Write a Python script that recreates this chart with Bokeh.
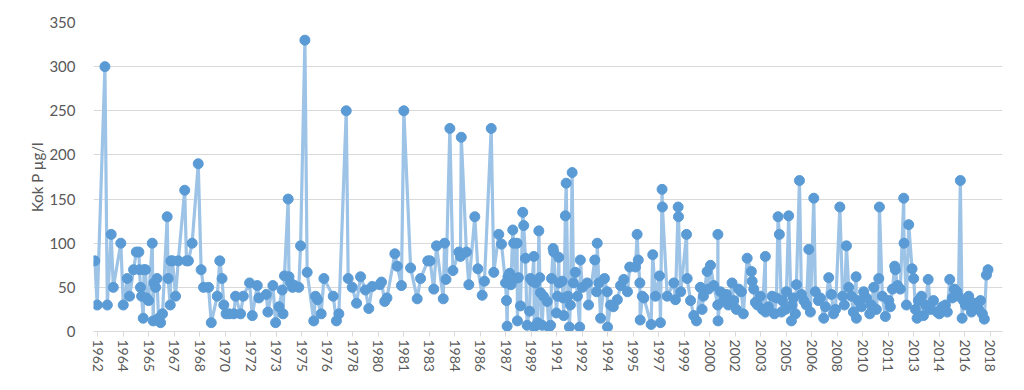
from bokeh.plotting import figure
from bokeh.models import Range1d, FixedTicker, ColumnDataSource
from bokeh.embed import file_html
from bokeh.resources import INLINE

# sampling dates (decimal years) and total phosphorus values (µg/l)
dates = [
    1962.43, 1962.58, 1963.06, 1963.21, 1963.45, 1963.58, 1964.05, 1964.20, 1964.45, 1964.59,
    1964.84, 1965.01, 1965.17, 1965.21, 1965.27, 1965.34, 1965.44, 1965.49, 1965.58, 1965.65,
    1965.77, 1966.00, 1966.06, 1966.11, 1966.21, 1966.30, 1966.39, 1966.52, 1966.64, 1966.93,
    1966.99, 1967.12, 1967.16, 1967.26, 1967.45, 1967.62, 1968.02, 1968.13, 1968.25, 1968.48,
    1968.86, 1969.04, 1969.19, 1969.50, 1969.67, 1970.04, 1970.20, 1970.34, 1970.45, 1970.59,
    1970.78, 1971.07, 1971.18, 1971.49, 1971.66, 1972.05, 1972.22, 1972.53, 1972.63, 1973.09,
    1973.19, 1973.50, 1973.67, 1973.88, 1974.08, 1974.13, 1974.22, 1974.45, 1974.50, 1974.60,
    1974.72, 1974.85, 1975.11, 1975.22, 1975.49, 1975.63, 1976.04, 1976.15, 1976.27, 1976.50,
    1976.67, 1977.25, 1977.45, 1977.60, 1978.06, 1978.18, 1978.43, 1978.70, 1978.95, 1979.25,
    1979.46, 1979.67, 1980.14, 1980.25, 1980.45, 1980.59, 1981.08, 1981.23, 1981.49, 1981.64,
    1982.06, 1982.47, 1982.68, 1983.13, 1983.27, 1983.50, 1983.67, 1984.09, 1984.17, 1984.26,
    1984.50, 1984.69, 1985.06, 1985.16, 1985.21, 1985.53, 1985.68, 1986.05, 1986.24, 1986.51,
    1986.65, 1987.07, 1987.23, 1987.54, 1987.71, 1987.96, 1988.02, 1988.06, 1988.11, 1988.22,
    1988.30, 1988.41, 1988.47, 1988.58, 1988.68, 1988.70, 1988.76, 1988.89, 1989.03, 1989.09,
    1989.20, 1989.30, 1989.45, 1989.51, 1989.62, 1989.72, 1989.74, 1989.83, 1989.96, 1990.03,
    1990.09, 1990.13, 1990.24, 1990.32, 1990.55, 1990.65, 1990.76, 1990.82, 1990.92, 1990.96,
    1991.12, 1991.19, 1991.27, 1991.29, 1991.48, 1991.54, 1991.58, 1991.68, 1991.73, 1991.84,
    1991.93, 1991.99, 1992.10, 1992.18, 1992.30, 1992.43, 1992.57, 1992.61, 1992.74, 1993.04,
    1993.12, 1993.51, 1993.62, 1993.66, 1993.76, 1993.87, 1994.11, 1994.28, 1994.30, 1994.49,
    1994.66, 1994.91, 1995.11, 1995.31, 1995.54, 1995.68, 1996.04, 1996.14, 1996.21, 1996.31,
    1996.33, 1996.46, 1996.56, 1997.01, 1997.11, 1997.28, 1997.53, 1997.59, 1997.69, 1997.71,
    1998.01, 1998.42, 1998.52, 1998.69, 1998.71, 1998.85, 1999.21, 1999.25, 1999.46, 1999.66,
    1999.83, 2000.07, 2000.18, 2000.26, 2000.49, 2000.57, 2000.70, 2000.90, 2001.15, 2001.16,
    2001.17, 2001.32, 2001.52, 2001.69, 2001.81, 2002.04, 2002.14, 2002.31, 2002.45, 2002.62,
    2002.74, 2002.98, 2003.24, 2003.29, 2003.39, 2003.49, 2003.62, 2003.80, 2003.93, 2004.11,
    2004.13, 2004.30, 2004.53, 2004.67, 2004.80, 2004.90, 2004.98, 2005.11, 2005.17, 2005.36,
    2005.42, 2005.56, 2005.73, 2005.77, 2005.85, 2005.98, 2006.04, 2006.23, 2006.35, 2006.50,
    2006.66, 2006.81, 2006.91, 2007.12, 2007.22, 2007.41, 2007.53, 2007.74, 2007.85, 2008.05,
    2008.22, 2008.35, 2008.47, 2008.74, 2008.91, 2009.02, 2009.15, 2009.29, 2009.46, 2009.58,
    2009.75, 2009.77, 2009.89, 2010.08, 2010.22, 2010.39, 2010.60, 2010.70, 2010.85, 2011.01,
    2011.16, 2011.20, 2011.38, 2011.57, 2011.78, 2011.88, 2012.01, 2012.15, 2012.19, 2012.32,
    2012.50, 2012.71, 2012.73, 2012.88, 2013.02, 2013.23, 2013.33, 2013.44, 2013.54, 2013.62,
    2013.81, 2013.94, 2014.06, 2014.23, 2014.37, 2014.56, 2014.79, 2014.93, 2015.11, 2015.30,
    2015.42, 2015.57, 2015.73, 2015.86, 2016.02, 2016.11, 2016.23, 2016.34, 2016.42, 2016.54,
    2016.75, 2016.92, 2017.04, 2017.17, 2017.36, 2017.48, 2017.60, 2017.72, 2017.85, 2017.95,
]

values = [
    80, 30, 300, 30, 110, 50, 100, 30, 60, 40,
    70, 90, 90, 70, 50, 40, 15, 70, 70, 38,
    35, 100, 12, 55, 50, 60, 15, 10, 20, 130,
    60, 30, 80, 80, 40, 80, 160, 80, 80, 100,
    190, 70, 50, 50, 10, 40, 80, 60, 30, 20,
    20, 20, 40, 20, 40, 55, 18, 52, 38, 42,
    22, 52, 10, 28, 47, 20, 63, 150, 62, 55,
    50, 52, 50, 97, 330, 67, 12, 40, 36, 20,
    60, 40, 12, 20, 250, 60, 50, 32, 62, 47,
    26, 51, 53, 56, 34, 38, 88, 74, 52, 250,
    72, 37, 60, 80, 80, 48, 97, 37, 100, 59,
    230, 69, 90, 85, 220, 90, 53, 130, 71, 41,
    57, 230, 67, 110, 99, 55, 35, 6, 62, 66,
    53, 115, 100, 60, 100, 12, 61, 29, 135, 120,
    83, 7, 23, 60, 57, 85, 5, 55, 10, 114,
    61, 44, 7, 40, 34, 5, 7, 60, 94, 90,
    21, 40, 84, 55, 57, 38, 18, 131, 168, 40,
    5, 30, 180, 55, 67, 40, 5, 81, 50, 55,
    30, 81, 45, 100, 55, 15, 60, 45, 5, 30,
    28, 36, 52, 59, 45, 73, 73, 110, 81, 55,
    13, 40, 38, 8, 87, 40, 63, 10, 161, 141,
    40, 55, 36, 141, 130, 45, 110, 60, 35, 18,
    12, 50, 25, 40, 68, 48, 75, 52, 30, 110,
    12, 45, 35, 42, 30, 55, 35, 25, 48, 45,
    20, 83, 68, 57, 48, 33, 30, 40, 25, 85,
    22, 28, 40, 20, 38, 130, 110, 22, 35, 25,
    45, 131, 12, 30, 38, 20, 53, 171, 42, 35,
    30, 93, 22, 151, 45, 35, 38, 15, 28, 61,
    42, 20, 25, 141, 40, 30, 97, 50, 40, 22,
    62, 15, 35, 28, 45, 38, 20, 30, 50, 25,
    60, 141, 40, 17, 35, 28, 48, 74, 70, 52,
    48, 151, 100, 30, 121, 71, 60, 25, 15, 35,
    40, 18, 30, 59, 25, 35, 22, 20, 28, 30,
    22, 59, 38, 48, 45, 40, 171, 15, 35, 30,
    40, 22, 30, 32, 25, 35, 20, 14, 64, 70,
]

tick_labels = [
    "1962", "1964", "1965", "1967", "1968", "1970", "1972", "1973", "1975", "1976",
    "1978", "1980", "1981", "1983", "1984", "1986", "1987", "1989", "1991", "1992",
    "1994", "1995", "1997", "1999", "2000", "2002", "2003", "2005", "2006", "2008",
    "2010", "2011", "2013", "2014", "2016", "2018",
]
y_ticks = [0, 50, 100, 150, 200, 250, 300, 350]
y_title = "Kok P µg/l"

# date axis: one major unit of about 19 months, starting mid-1962
first_tick = 1962.6
tick_step = 1.585
tick_pos = [first_tick + i * tick_step for i in range(len(tick_labels))]

src = ColumnDataSource(data=dict(x=dates, y=values))

FONT = "Lato"
TXT = "#595959"
GRID = "#D9D9D9"

p = figure(
    width=1008, height=374,
    x_range=Range1d(1962.35, 2018.85),
    y_range=Range1d(0, 350),
    output_backend="svg", toolbar_location=None,
    min_border_left=93, min_border_right=6, min_border_top=22, min_border_bottom=42,
    background_fill_color="white", border_fill_color="white",
)
p.outline_line_color = None

p.line("x", "y", source=src, line_color="#9DC3E6", line_width=3.2)
p.scatter("x", "y", source=src, size=10, fill_color="#5B9BD5", line_color="#5B9BD5")

# x axis
xa = p.xaxis[0]
xa.ticker = FixedTicker(ticks=tick_pos)
xa.major_label_overrides = {t: lab for t, lab in zip(tick_pos, tick_labels)}
xa.major_label_orientation = "vertical"
xa.major_label_text_font = FONT
xa.major_label_text_font_size = "14px"
xa.major_label_text_color = TXT
xa.axis_line_color = GRID
xa.major_tick_line_color = GRID
xa.major_tick_out = 5
xa.major_tick_in = 0
xa.minor_tick_line_color = None
xa.major_label_standoff = 3

# y axis
ya = p.yaxis[0]
ya.ticker = FixedTicker(ticks=y_ticks)
ya.major_label_text_font = FONT
ya.major_label_text_font_size = "15px"
ya.major_label_text_color = TXT
ya.axis_line_color = None
ya.major_tick_line_color = None
ya.minor_tick_line_color = None
ya.major_label_standoff = 12
ya.axis_label = y_title
ya.axis_label_text_font = FONT
ya.axis_label_text_font_size = "15px"
ya.axis_label_text_font_style = "normal"
ya.axis_label_text_color = TXT
ya.axis_label_standoff = 0

p.xgrid.grid_line_color = None
p.ygrid.grid_line_color = GRID
p.ygrid.ticker = FixedTicker(ticks=y_ticks)

open("out.html", "w").write(file_html(p, INLINE))
